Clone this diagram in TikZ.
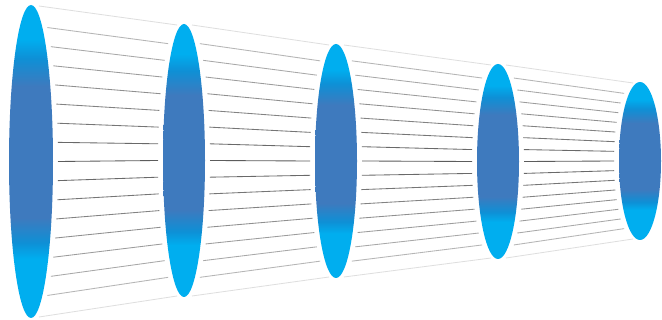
\documentclass[tikz,border=0pt]{standalone}
\definecolor{ecyan}{RGB}{0,174,239}
\definecolor{eband}{RGB}{14,144,214}
\definecolor{eblue}{RGB}{62,122,190}
\pgfdeclareverticalshading{ellshade}{100bp}{color(0bp)=(ecyan); color(34.5bp)=(ecyan); color(37bp)=(eband); color(41bp)=(eblue); color(62bp)=(eblue); color(66.5bp)=(eband); color(69.5bp)=(ecyan); color(100bp)=(ecyan)}
\tikzset{
  hatchline/.style={line width=0.85pt},
  rimline/.style={line width=0.8pt, draw=black!13},
  lens/.style={shading=ellshade}
}
\begin{document}
\begin{tikzpicture}[x=1pt,y=-1pt]
\useasboundingbox[fill=white] (0,0) rectangle (662,320);
\foreach \ax/\ay/\arx/\ary/\bx/\by/\brx/\bry in {31/161.5/22/156.5/184/160.5/21/136.5, 184/160.5/21/136.5/336/161/21/117, 336/161/21/117/498/161.5/21/97.5, 498/161.5/21/97.5/640/161/21/79}{
  \foreach \k in {-7,...,7}{
    \pgfmathsetmacro\t{\k*0.856/7}
    \pgfmathsetmacro\ya{\ay+\t*\ary}
    \pgfmathsetmacro\yb{\by+\t*\bry}
    \pgfmathsetmacro\xa{\ax+\arx*sqrt(1-\t*\t)+5}
    \pgfmathsetmacro\xb{\bx-\brx*sqrt(1-\t*\t)-5}
    \pgfmathtruncatemacro\g{64-5*abs(\k)}
    \draw[hatchline, draw=black!\g] (\xa,\ya) -- (\xb,\yb);
  }
  \draw[rimline] (\ax+8,\ay-\ary+1) -- (\bx-7,\by-\bry+1);
  \draw[rimline] (\ax+8,\ay+\ary-1) -- (\bx-7,\by+\bry-1);
}
\foreach \cx/\cy/\rx/\ry in {31/161.5/22/156.5, 184/160.5/21/136.5, 336/161/21/117, 498/161.5/21/97.5, 640/161/21/79}{
  \shade[lens] (\cx,\cy) ellipse [x radius=\rx pt, y radius=\ry pt];
}
\end{tikzpicture}
\end{document}
